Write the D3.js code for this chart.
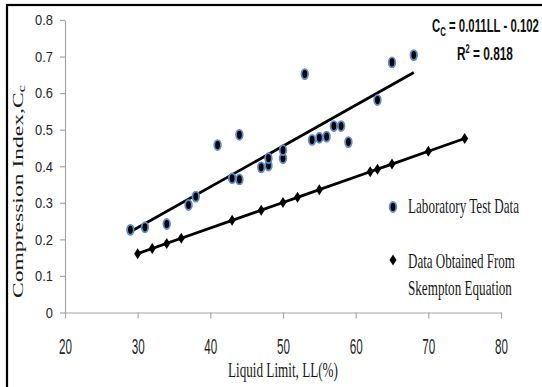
<!DOCTYPE html>
<html>
<head>
<meta charset="utf-8">
<script src="https://cdn.jsdelivr.net/npm/d3@7"></script>
<style>
  body { margin: 0; background: #fff; }
  .tick text { font-family: "Liberation Sans", Arial, sans-serif; fill: #262626; }
  .serif { font-family: "Liberation Serif", "Times New Roman", serif; fill: #1a1a1a; }
  .bold { font-family: "Liberation Sans", Arial, sans-serif; font-weight: bold; fill: #111; }
</style>
</head>
<body>
<div id="viz"></div>
<script>
// lab test data (LL, Cc)
var labLL = [29, 31, 34, 37, 38, 41, 43, 44, 44, 47, 48, 48, 50, 50, 53, 54, 55, 56, 57, 58, 59, 63, 65, 68];
var labCc = [0.226, 0.233, 0.242, 0.294, 0.317, 0.458, 0.367, 0.364, 0.486, 0.397, 0.402, 0.422, 0.422, 0.444, 0.652, 0.472, 0.478, 0.481, 0.51, 0.51, 0.466, 0.581, 0.684, 0.704];

// skempton equation points
var skLL = [30, 32, 34, 36, 43, 47, 50, 52, 55, 62, 63, 65, 70, 75];
var skCc = [0.161, 0.175, 0.189, 0.203, 0.252, 0.280, 0.301, 0.315, 0.336, 0.385, 0.392, 0.406, 0.441, 0.476];

var xTicks = [20, 30, 40, 50, 60, 70, 80];
var yTicks = [0, 0.1, 0.2, 0.3, 0.4, 0.5, 0.6, 0.7, 0.8];

var width = 542;
var height = 387;

var svg = d3.select("#viz")
    .append("svg")
    .attr("width", width)
    .attr("height", height);

// squeeze text sideways by factor f (the picture is stretched vertically)
function squeeze(sel, f, pre) {
    sel.each(function() {
        var t = d3.select(this);
        t.attr("x", (+t.attr("x") || 0) / f)
         .attr("transform", (pre || "") + " scale(" + f + ",1)");
    });
}
// squeeze to a given width
function fit(sel, w, pre) {
    var f = w / sel.node().getComputedTextLength();
    squeeze(sel, f, pre);
}

// frame
svg.append("rect")
    .attr("x", 7).attr("y", 5)
    .attr("width", 540).attr("height", 390)
    .attr("fill", "none")
    .attr("stroke", "#000")
    .attr("stroke-width", 2.2);

var xScale = d3.scaleLinear().domain([20, 80]).range([65, 501]);
var yScale = d3.scaleLinear().domain([0, 0.8]).range([312.5, 20]);

var xAxis = d3.axisBottom(xScale).tickValues(xTicks).tickSize(6).tickSizeOuter(0).tickPadding(20);
var yAxis = d3.axisLeft(yScale).tickValues(yTicks).tickSize(5).tickSizeOuter(0).tickPadding(7)
    .tickFormat(function(d) { return d === 0 ? "0" : d3.format(".1f")(d); });

var gx = svg.append("g")
    .attr("transform", "translate(0," + yScale(0) + ")")
    .call(xAxis);
gx.selectAll("text").style("font-size", "22px").call(squeeze, 0.53);

var gy = svg.append("g")
    .attr("transform", "translate(" + xScale(20) + ",0)")
    .call(yAxis);
gy.selectAll("text").style("font-size", "15px").call(squeeze, 0.86);

svg.selectAll(".domain, .tick line").attr("stroke", "#a6a6a6").attr("stroke-width", 1.2);

var lab = labLL.map(function(d, i) { return { x: d, y: labCc[i] }; });
var sk = skLL.map(function(d, i) { return { x: d, y: skCc[i] }; });

// least squares trend line of the lab data
var mx = d3.mean(lab, d => d.x), my = d3.mean(lab, d => d.y);
var slope = d3.sum(lab, d => (d.x - mx) * (d.y - my)) / d3.sum(lab, d => (d.x - mx) * (d.x - mx));
var icpt = my - slope * mx;
var x0 = d3.min(labLL), x1 = d3.max(labLL);

var line = d3.line().x(d => xScale(d.x)).y(d => yScale(d.y));

svg.append("path")
    .datum([{ x: x0, y: icpt + slope * x0 }, { x: x1, y: icpt + slope * x1 }])
    .attr("d", line)
    .attr("fill", "none")
    .attr("stroke", "#000")
    .attr("stroke-width", 2.8);

svg.append("path")
    .datum(sk)
    .attr("d", line)
    .attr("fill", "none")
    .attr("stroke", "#000")
    .attr("stroke-width", 2.8);

var diamond = "M0,-5.5L3.5,0L0,5.5L-3.5,0Z";

svg.selectAll(".sk")
    .data(sk)
    .enter()
    .append("path")
    .attr("class", "sk")
    .attr("d", diamond)
    .attr("transform", d => "translate(" + xScale(d.x) + "," + yScale(d.y) + ")")
    .attr("fill", "#000");

svg.selectAll(".lab")
    .data(lab)
    .enter()
    .append("ellipse")
    .attr("class", "lab")
    .attr("cx", d => xScale(d.x))
    .attr("cy", d => yScale(d.y))
    .attr("rx", 3.3)
    .attr("ry", 5)
    .attr("fill", "#000")
    .attr("stroke", "#5b8ed0")
    .attr("stroke-width", 1.8);

// legend
svg.append("ellipse")
    .attr("cx", 393).attr("cy", 207)
    .attr("rx", 3.3).attr("ry", 5)
    .attr("fill", "#000").attr("stroke", "#5b8ed0").attr("stroke-width", 1.8);
svg.append("text").attr("class", "serif")
    .attr("y", 213)
    .style("font-size", "21px")
    .text("Laboratory Test Data")
    .call(fit, 111, "translate(408,0)");
svg.append("path")
    .attr("d", diamond)
    .attr("transform", "translate(393,260)")
    .attr("fill", "#000");
svg.append("text").attr("class", "serif")
    .attr("y", 268)
    .style("font-size", "21px")
    .text("Data Obtained From")
    .call(fit, 107, "translate(408,0)");
svg.append("text").attr("class", "serif")
    .attr("y", 295)
    .style("font-size", "21px")
    .text("Skempton Equation")
    .call(fit, 104, "translate(408,0)");

// equation
var eq = svg.append("text").attr("class", "bold")
    .attr("y", 32)
    .style("font-size", "19px");
eq.append("tspan").text("C");
eq.append("tspan").attr("dy", 4).style("font-size", "13px").text("C");
eq.append("tspan").attr("dy", -4).text(" = 0.011LL - 0.102");
eq.call(fit, 107, "translate(432,0)");

var r2 = svg.append("text").attr("class", "bold")
    .attr("y", 60)
    .style("font-size", "19px");
r2.append("tspan").text("R");
r2.append("tspan").attr("dy", -7).style("font-size", "12px").text("2");
r2.append("tspan").attr("dy", 7).text(" = 0.818");
r2.call(fit, 56, "translate(457,0)");

// axis titles
svg.append("text").attr("class", "serif")
    .attr("y", 377)
    .style("font-size", "21px")
    .text("Liquid Limit, LL(%)")
    .call(fit, 110, "translate(228,0)");

var yt = svg.append("text").attr("class", "serif")
    .style("font-size", "14.5px");
yt.append("tspan").text("Compression Index,C");
yt.append("tspan").attr("dy", 2).style("font-size", "10px").text("c");
yt.call(fit, 213, "translate(23,298) rotate(-90)");
</script>
</body>
</html>
